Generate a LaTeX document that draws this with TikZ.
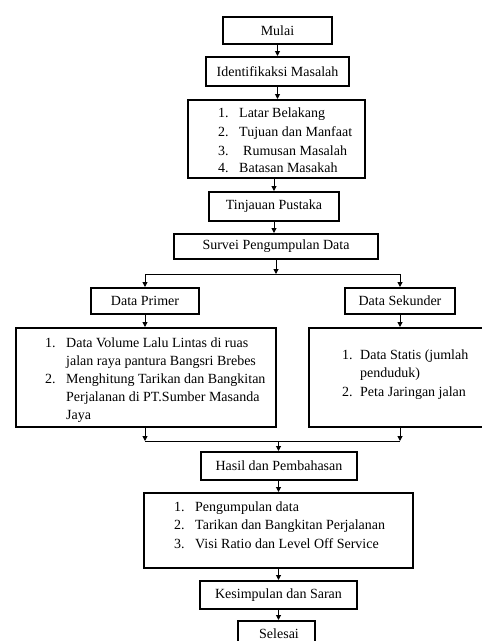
\documentclass[tikz,border=0pt]{standalone}
\usepackage{fontspec}
\setmainfont{Liberation Serif}
\usetikzlibrary{arrows.meta}
\tikzset{
  box/.style={draw=black, line width=2pt, fill=white, inner sep=0pt, font=\fontsize{14}{16}\selectfont},
  txt/.style={inner sep=0pt, anchor=base west, font=\fontsize{14}{16}\selectfont},
  arr/.style={line width=1pt, -{Triangle[length=5pt,width=5pt]}},
  ln/.style={line width=1pt}
}
\begin{document}
\begin{tikzpicture}[x=1pt,y=-1pt]
\useasboundingbox[fill=white] (0,0) rectangle (482,641);
% boxes
\node[box, minimum width=109pt, minimum height=27pt] (mulai) at (277.5,30.5) {Mulai};
\node[box, minimum width=143pt, minimum height=29pt] (ident) at (277.5,71.5) {Identifikaksi Masalah};
\node[box, minimum width=177pt, minimum height=78pt] (list1) at (276.5,139) {};
\node[box, minimum width=130pt, minimum height=29pt] (tinj) at (274,206.5) {Tinjauan Pustaka};
\node[box, minimum width=204pt, minimum height=25pt] (surv) at (276,246.5) {Survei Pengumpulan Data};
\node[box, minimum width=108pt, minimum height=26pt] (prim) at (145,301) {Data Primer};
\node[box, minimum width=110pt, minimum height=26pt] (sek) at (400,301) {Data Sekunder};
\node[box, minimum width=260pt, minimum height=99pt] (plist) at (145.5,377.5) {};
\node[box, minimum width=174pt, minimum height=99pt] (slist) at (396,377.5) {};
\node[box, minimum width=156pt, minimum height=28pt] (hasil) at (279,466) {Hasil dan Pembahasan};
\node[box, minimum width=269pt, minimum height=75pt] (list3) at (278.5,530.5) {};
\node[box, minimum width=157pt, minimum height=28pt] (kes) at (278.5,595) {Kesimpulan dan Saran};
\node[box, minimum width=77pt, minimum height=28pt] (sel) at (276.5,635) {};
\node[txt] (selt) at (259,638.5) {Selesai};
% list 1
\node[txt] (a1n) at (218,117) {1.};
\node[txt] (a1t) at (239,117) {Latar Belakang};
\node[txt] (a2n) at (218,136) {2.};
\node[txt] (a2t) at (239,136) {Tujuan dan Manfaat};
\node[txt] (a3n) at (218,155) {3.};
\node[txt] (a3t) at (243,155) {Rumusan Masalah};
\node[txt] (a4n) at (218,172.7) {4.};
\node[txt] (a4t) at (239,172.7) {Batasan Masakah};
% primer list
\node[txt] (p1n) at (45,347) {1.};
\node[txt] (p1t) at (66,347) {Data Volume Lalu Lintas di ruas};
\node[txt] (p1u) at (66,365) {jalan raya pantura Bangsri Brebes};
\node[txt] (p2n) at (45,383.3) {2.};
\node[txt] (p2t) at (66,383.3) {Menghitung Tarikan dan Bangkitan};
\node[txt] (p2u) at (66,401.7) {Perjalanan di PT.Sumber Masanda};
\node[txt] (p2v) at (66,419.3) {Jaya};
% sekunder list
\node[txt] (s1n) at (342,359.3) {1.};
\node[txt] (s1t) at (360,359.3) {Data Statis (jumlah};
\node[txt] (s1u) at (360,377.3) {penduduk)};
\node[txt] (s2n) at (342,396) {2.};
\node[txt] (s2t) at (360,396) {Peta Jaringan jalan};
% list 3
\node[txt] (h1n) at (174,511) {1.};
\node[txt] (h1t) at (195,511) {Pengumpulan data};
\node[txt] (h2n) at (174,529.3) {2.};
\node[txt] (h2t) at (195,529.3) {Tarikan dan Bangkitan Perjalanan};
\node[txt] (h3n) at (174,548.3) {3.};
\node[txt] (h3t) at (195,548.3) {Visi Ratio dan Level Off Service};
% junctions
\coordinate (j1) at (276,274);
\coordinate (jL) at (145,274);
\coordinate (jR) at (400,274);
\coordinate (k1) at (278.5,441);
\coordinate (kL) at (145,441);
\coordinate (kR) at (400,441);
% connectors
\draw[arr] (mulai.south) -- (mulai.south |- ident.north);
\draw[arr] (ident.south) -- (ident.south |- list1.north);
\draw[arr] (list1.south -| tinj.south) -- (tinj.north);
\draw[arr] (tinj.south) -- (tinj.south |- surv.north);
\draw[arr] (surv.south) -- (j1);
\draw[ln] (jL) -- (jR);
\draw[arr] (jL) -- (prim.north);
\draw[arr] (jR) -- (sek.north);
\draw[arr] (prim.south) -- (prim.south |- plist.north);
\draw[arr] (sek.south) -- (sek.south |- slist.north);
\draw[arr] (plist.south -| prim.south) -- (kL);
\draw[arr] (slist.south -| sek.south) -- (kR);
\draw[ln] (kL) -- (kR);
\draw[arr] (k1) -- (hasil.north -| k1);
\draw[arr] (hasil.south -| k1) -- (list3.north -| k1);
\draw[arr] (list3.south -| k1) -- (kes.north -| k1);
\draw[arr] (kes.south -| k1) -- (sel.north -| k1);
\end{tikzpicture}
\end{document}
